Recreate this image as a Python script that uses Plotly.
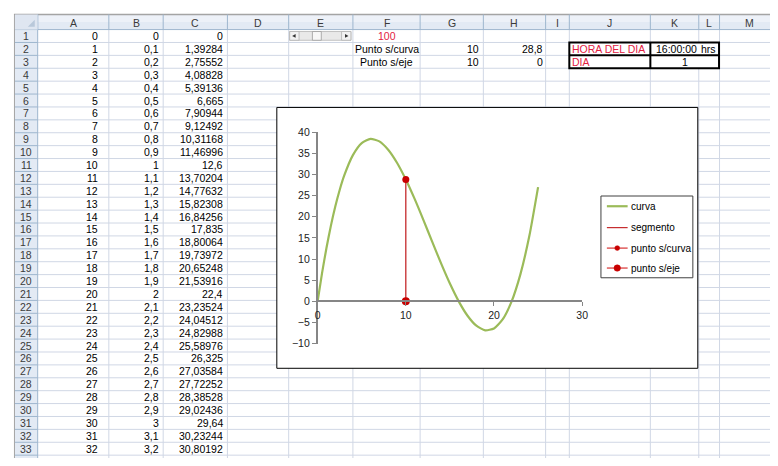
import plotly.graph_objects as go

# The page adds an 8px body margin; the figure is sized so that figure + margin = 778x466.
PAGE_W, PAGE_H = 778, 466
OFF = 8
W, H = PAGE_W - 2 * OFF, PAGE_H - 2 * OFF

# ---------------- data ----------------
col_letters = ["A", "B", "C", "D", "E", "F", "G", "H", "I", "J", "K", "L", "M"]
row_numbers = ["1", "2", "3", "4", "5", "6", "7", "8", "9", "10", "11", "12", "13", "14", "15", "16", "17",
               "18", "19", "20", "21", "22", "23", "24", "25", "26", "27", "28", "29", "30", "31", "32", "33", "34"]
col_a = ["0", "1", "2", "3", "4", "5", "6", "7", "8", "9", "10", "11", "12", "13", "14", "15", "16",
         "17", "18", "19", "20", "21", "22", "23", "24", "25", "26", "27", "28", "29", "30", "31", "32", "33"]
col_b = ["0", "0,1", "0,2", "0,3", "0,4", "0,5", "0,6", "0,7", "0,8", "0,9", "1", "1,1", "1,2", "1,3",
         "1,4", "1,5", "1,6", "1,7", "1,8", "1,9", "2", "2,1", "2,2", "2,3", "2,4", "2,5", "2,6", "2,7",
         "2,8", "2,9", "3", "3,1", "3,2", "3,3"]
col_c = ["0", "1,39284", "2,75552", "4,08828", "5,39136", "6,665", "7,90944", "9,12492", "10,31168",
         "11,46996", "12,6", "13,70204", "14,77632", "15,82308", "16,84256", "17,835", "18,80064",
         "19,73972", "20,65248", "21,53916", "22,4", "23,23524", "24,04512", "24,82988", "25,58976",
         "26,325", "27,03584", "27,72252", "28,38528", "29,02436", "29,64", "30,23244", "30,80192",
         "31,34868"]

slider_value = "100"
punto_labels = ["Punto s/curva", "Punto s/eje"]
punto_g = ["10", "10"]
punto_h = ["28,8", "0"]
hora_label = "HORA DEL DIA"
hora_value = "16:00:00"
hora_unit = "hrs"
dia_label = "DIA"
dia_value = "1"

curve_x = [0, 0.5, 1, 1.5, 2, 2.5, 3, 4, 5, 6, 7, 8, 9, 10, 11, 12, 13, 14, 15, 16, 17, 18, 19,
           20, 21, 22, 23, 24, 25]
curve_y = [0, 6.665, 12.6, 17.835, 22.4, 26.325, 29.64, 34.56, 37.4, 38.4, 37.8, 35.84, 32.76, 28.8,
           24.2, 19.2, 14.04, 8.96, 4.2, 0, -3.4, -5.76, -6.84, -6.4, -4.2, 0, 6.44, 15.36, 27]
seg_x = [10, 10]
seg_y = [0, 28.8]
pcurva_x = [10]
pcurva_y = [28.8]
peje_x = [10]
peje_y = [0]
series_names = ["curva", "segmento", "punto s/curva", "punto s/eje"]

x_ticks = [0, 10, 20, 30]
y_ticks = [-10, -5, 0, 5, 10, 15, 20, 25, 30, 35, 40]

# ---------------- styles ----------------
GREEN = "#9bbb59"
SEG_RED = "#c0181a"
PT_RED = "#c80000"
PT_LINE = "#d42020"
FONT = "Liberation Sans, Arial, sans-serif"
GRID = "#d0d7e5"
HDR_LINE = "#9eb6ce"
RED = "#e3203f"

# ---------------- layout geometry (page pixels) ----------------
col_edges = [35, 107, 162, 227, 289, 354, 422, 486, 549, 573, 655, 704, 725, 786]
HDR_TOP, HDR_BOT = 8.5, 24
ROW_H = 13.25
RH_L, RH_R = 12, 35


def X(px):
    return (px - OFF) / W


def Y(py):
    return 1 - (py - OFF) / H


def row_top(r):
    return HDR_BOT + (r - 1) * ROW_H


def row_mid(r):
    return HDR_BOT + (r - 0.5) * ROW_H


shapes = []


def rect(x0, y0, x1, y1, fill, line="rgba(0,0,0,0)", lw=0):
    shapes.append(dict(type="rect", xref="paper", yref="paper", x0=X(x0), x1=X(x1), y0=Y(y1), y1=Y(y0),
                       fillcolor=fill, line=dict(color=line, width=lw), layer="below"))


def seg(x0, y0, x1, y1, color, w=1):
    shapes.append(dict(type="line", xref="paper", yref="paper", x0=X(x0), x1=X(x1), y0=Y(y0), y1=Y(y1),
                       line=dict(color=color, width=w), layer="below"))


def dot(cx, cy, r, color):
    shapes.append(dict(type="circle", xref="paper", yref="paper", x0=X(cx - r), x1=X(cx + r),
                       y0=Y(cy + r), y1=Y(cy - r), fillcolor=color, line=dict(color=color, width=0.5),
                       layer="above"))


def path(points, fill, line="rgba(0,0,0,0)"):
    d = "M " + " L ".join(f"{X(a):.5f},{Y(b):.5f}" for a, b in points) + " Z"
    shapes.append(dict(type="path", xref="paper", yref="paper", path=d, fillcolor=fill,
                       line=dict(color=line, width=0.5), layer="below"))


annotations = []


def text(s, px, py, anchor="right", color="#000", size=10.5):
    annotations.append(dict(text=s, x=X(px), y=Y(py), xref="paper", yref="paper", xanchor=anchor,
                            yanchor="middle", showarrow=False, borderpad=0,
                            font=dict(family=FONT, size=size, color=color)))


# headers background
rect(RH_L, HDR_TOP, 790, HDR_BOT, "#e3eaf4")
rect(RH_L, HDR_TOP, 790, (HDR_TOP + HDR_BOT) / 2, "#edf1f8")
rect(RH_L, HDR_BOT, RH_R, PAGE_H + 5, "#e3eaf4")
# top gray frame
seg(RH_L - 1, 8.5, 790, 8.5, "#a4a4a4", 1.5)
seg(RH_L - 0.5, 8, RH_L - 0.5, PAGE_H + 5, "#a4a4a4", 1)

# grid
for k in range(1, 35):
    yy = row_top(k + 1)
    seg(RH_R, yy, 790, yy, GRID, 1)
for e in col_edges[1:]:
    seg(e, HDR_BOT, e, PAGE_H + 5, GRID, 1)

# header separators
for e in col_edges:
    seg(e, HDR_TOP, e, HDR_BOT, HDR_LINE, 1)
seg(RH_L, HDR_BOT, 790, HDR_BOT, HDR_LINE, 1)
for k in range(1, 35):
    yy = row_top(k + 1)
    seg(RH_L, yy, RH_R, yy, HDR_LINE, 1)
seg(RH_R, HDR_TOP, RH_R, PAGE_H + 5, HDR_LINE, 1)
# select-all corner
rect(RH_L, HDR_TOP, RH_R, HDR_BOT, "#dfe6f1")
path([(RH_R - 3, HDR_BOT - 3), (RH_R - 3, HDR_BOT - 10), (RH_R - 10, HDR_BOT - 3)], "#b9c8da")

# header labels
for i, lab in enumerate(col_letters):
    text(lab, (col_edges[i] + col_edges[i + 1]) / 2, (HDR_TOP + HDR_BOT) / 2 + 0.5, "center", "#3a3a3a")
for r, lab in enumerate(row_numbers, start=1):
    text(lab, (RH_L + RH_R) / 2, row_mid(r), "center", "#3a3a3a")

# columns A, B, C
for r in range(len(col_a)):
    text(col_a[r], 97, row_mid(r + 1))
    text(col_b[r], 159, row_mid(r + 1))
    text(col_c[r], 224, row_mid(r + 1))

# F1 slider value + scrollbar in E1
text(slider_value, 388, row_mid(1), "center", RED)
rect(290, 26, 352, 35, "#e9e9e9", "#b4b4b4", 0.8)
rect(290, 26, 299.5, 35, "#f2f2f2", "#b4b4b4", 0.8)
rect(342.5, 26, 352, 35, "#f2f2f2", "#b4b4b4", 0.8)
rect(313, 26, 322, 35, "#f7f7f7", "#9c9c9c", 0.8)
path([(292.5, 30.5), (296, 28.5), (296, 32.5)], "#333")
path([(349.5, 30.5), (346, 28.5), (346, 32.5)], "#333")

# F2:H3
for i in range(2):
    text(punto_labels[i], 388, row_mid(i + 2), "center")
    text(punto_g[i], 483, row_mid(i + 2))
    text(punto_h[i], 547, row_mid(i + 2))

# J2:L3 box
bx0, bx1, by0, by1 = 573, 724.5, row_top(2), row_top(4)
rect(bx0, by0, bx1, by1, "#ffffff", "#000000", 2)
seg(bx0, row_top(3), bx1, row_top(3), "#000000", 2)
seg(655, by0, 655, by1, "#000000", 2)
text(hora_label, 575, row_mid(2), "left", RED)
text(hora_value, 703, row_mid(2))
text(hora_unit, 705, row_mid(2), "left")
text(dia_label, 575, row_mid(3), "left", RED)
text(dia_value, 690, row_mid(3), "center")

# chart area
rect(277, 104, 703, 372, "#ffffff", "#000000", 1)

# legend (drawn like the spreadsheet chart legend)
rect(605, 195, 698, 279, "#ffffff", "#404040", 1)
leg_y = [205.5, 227.5, 248.5, 269]
seg(611, leg_y[0], 632, leg_y[0], GREEN, 2.2)
seg(611, leg_y[1], 632, leg_y[1], SEG_RED, 1.1)
seg(611, leg_y[2], 632, leg_y[2], PT_LINE, 1.1)
seg(611, leg_y[3], 632, leg_y[3], PT_LINE, 1.1)
dot(621.5, leg_y[2], 2.5, PT_RED)
dot(621.5, leg_y[3], 3.3, PT_RED)
for name, yy in zip(series_names, leg_y):
    text(name, 634, yy, "left", "#000", 10)

# ---------------- chart ----------------
xd = [X(318.3), X(586)]
yd = [Y(346.7), Y(129.3)]
yr = [-10, 40]
x_axis_pos = yd[0] + (0 - yr[0]) / (yr[1] - yr[0]) * (yd[1] - yd[0])

fig = go.Figure()
fig.add_trace(go.Scatter(x=curve_x, y=curve_y, mode="lines", name=series_names[0],
                         line=dict(color=GREEN, width=2.2, shape="spline", smoothing=0.6)))
fig.add_trace(go.Scatter(x=seg_x, y=seg_y, mode="lines", name=series_names[1],
                         line=dict(color=SEG_RED, width=1.2)))
fig.add_trace(go.Scatter(x=pcurva_x, y=pcurva_y, mode="lines+markers", name=series_names[2],
                         line=dict(color=PT_LINE, width=1.2), marker=dict(color=PT_RED, size=7)))
fig.add_trace(go.Scatter(x=peje_x, y=peje_y, mode="lines+markers", name=series_names[3],
                         line=dict(color=PT_LINE, width=1.2), marker=dict(color=PT_RED, size=8)))

axis_font = dict(family=FONT, size=10.5, color="#222222")
fig.update_layout(
    width=W, height=H, margin=dict(l=0, r=0, t=0, b=0),
    paper_bgcolor="#ffffff", plot_bgcolor="rgba(0,0,0,0)",
    shapes=shapes, annotations=annotations,
    xaxis=dict(domain=xd, range=[0, 30], anchor="free", position=x_axis_pos, tickvals=x_ticks,
               ticks="outside", ticklen=4, tickcolor="#868686", showline=True, linecolor="#868686",
               linewidth=1.6, showgrid=False, zeroline=False, tickfont=axis_font, fixedrange=True),
    yaxis=dict(domain=yd, range=yr, anchor="x", tickvals=y_ticks, ticks="outside", ticklen=4,
               tickcolor="#868686", showline=True, linecolor="#868686", linewidth=1.6, showgrid=False,
               zeroline=False, tickfont=axis_font, fixedrange=True),
    showlegend=False,
)

fig.write_html("out.html", config={"displayModeBar": False})
